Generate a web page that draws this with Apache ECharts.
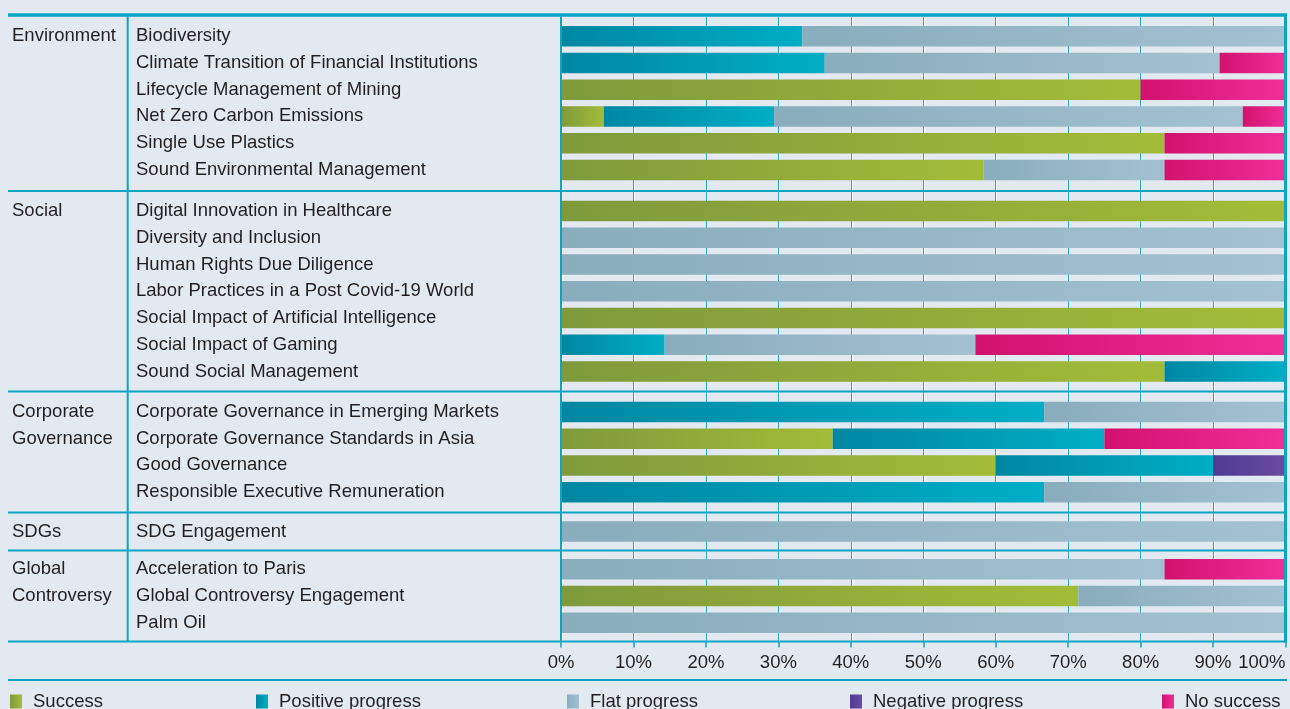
<!DOCTYPE html>
<html>
<head>
<meta charset="utf-8">
<style>
  html, body { margin: 0; padding: 0; background: #e2e9f1; }
  #chart { width: 1290px; height: 709px; }
</style>
<script src="https://cdn.jsdelivr.net/npm/echarts@6/dist/echarts.min.js"></script>
</head>
<body>
<div id="chart"></div>
<script>
const groups = ['Environment', 'Social', 'Corporate\nGovernance', 'SDGs', 'Global\nControversy'];

const environmentTopics = [
  'Biodiversity',
  'Climate Transition of Financial Institutions',
  'Lifecycle Management of Mining',
  'Net Zero Carbon Emissions',
  'Single Use Plastics',
  'Sound Environmental Management',
];
const socialTopics = [
  'Digital Innovation in Healthcare',
  'Diversity and Inclusion',
  'Human Rights Due Diligence',
  'Labor Practices in a Post Covid-19 World',
  'Social Impact of Artificial Intelligence',
  'Social Impact of Gaming',
  'Sound Social Management',
];
const governanceTopics = [
  'Corporate Governance in Emerging Markets',
  'Corporate Governance Standards in Asia',
  'Good Governance',
  'Responsible Executive Remuneration',
];
const sdgTopics = ['SDG Engagement'];
const controversyTopics = [
  'Acceleration to Paris',
  'Global Controversy Engagement',
  'Palm Oil',
];

const statuses = ['Success', 'Positive progress', 'Flat progress', 'Negative progress', 'No success'];

// % of engagements per topic, rows in the order of the topic lists above
const success   = [0, 0, 80, 5.9, 83.3, 58.3,   100, 0, 0, 0, 100, 0, 83.3,   0, 37.5, 60, 0,   0,   0, 71.4, 0];
const positive  = [33.3, 36.4, 0, 23.5, 0, 0,   0, 0, 0, 0, 0, 14.3, 16.7,   66.7, 37.5, 30, 66.7,   0,   0, 0, 0];
const flat      = [66.7, 54.5, 0, 64.7, 0, 25,  0, 100, 100, 100, 0, 42.9, 0,   33.3, 0, 0, 33.3,   100,   83.3, 28.6, 100];
const negative  = [0, 0, 0, 0, 0, 0,            0, 0, 0, 0, 0, 0, 0,   0, 0, 10, 0,   0,   0, 0, 0];
const noSuccess = [0, 9.1, 20, 5.9, 16.7, 16.7, 0, 0, 0, 0, 0, 42.9, 0,   0, 25, 0, 0,   0,   16.7, 0, 0];

const xTickLabels = ['0%', '10%', '20%', '30%', '40%', '50%', '60%', '70%', '80%', '90%', '100%'];

const topicGroups = [environmentTopics, socialTopics, governanceTopics, sdgTopics, controversyTopics];
const values = [success, positive, flat, negative, noSuccess];

const teal = '#0ba5c2';
const textColor = '#231f20';
const font = "'Liberation Sans', Arial, sans-serif";
const fontSize = 18.5;
const gradients = [
  ['#7e9a3c', '#a3bc38'],
  ['#0087a2', '#00aec5'],
  ['#89adbc', '#a3c1d1'],
  ['#4c3b95', '#6b4ba0'],
  ['#d1126e', '#ef2f98'],
];

// layout: horizontal rules between the groups
const sepY = [15, 191, 391.5, 512.5, 550.5, 641.5];
const ROW = 26.75;
const plotLeft = 561;
const plotRight = 4.5;
const legendX = [10, 256, 567, 850, 1162];

function grad(i) {
  return new echarts.graphic.LinearGradient(0, 0, 1, 0, [
    { offset: 0, color: gradients[i][0] },
    { offset: 1, color: gradients[i][1] },
  ]);
}

const labelStyle = { color: textColor, fontFamily: font, fontSize: fontSize };

const grids = [{ left: plotLeft, right: plotRight, top: 17, bottom: 709 - sepY[5], outerBoundsMode: 'none' }];
const xAxes = [{
  gridIndex: 0, type: 'value', min: 0, max: 100, interval: 10,
  axisLine: { show: false },
  axisTick: { show: true, length: 6, lineStyle: { color: teal, width: 1.5 } },
  axisLabel: Object.assign({ margin: 12, alignMaxLabel: 'right', formatter: (v) => xTickLabels[Math.round(v / 10)] }, labelStyle),
  splitLine: { show: true, lineStyle: { color: '#22a9c3', width: 1, shadowColor: 'rgba(255,255,255,0.9)', shadowOffsetX: 1, shadowBlur: 0 } },
}];
const yAxes = [
  { gridIndex: 0, type: 'value', position: 'left', z: 10, axisLine: { show: true, lineStyle: { color: teal, width: 2 } }, axisLabel: { show: false }, axisTick: { show: false }, splitLine: { show: false } },
  { gridIndex: 0, type: 'value', position: 'right', z: 10, axisLine: { show: true, lineStyle: { color: teal, width: 3 } }, axisLabel: { show: false }, axisTick: { show: false }, splitLine: { show: false } },
];
const series = [];
const graphics = [];

let offset = 0;
topicGroups.forEach((topics, g) => {
  const h = topics.length * ROW;
  const top = sepY[g] + (sepY[g + 1] - sepY[g] - h) / 2;
  grids.push({ left: plotLeft, right: plotRight, top: top, height: h, outerBoundsMode: 'none' });
  xAxes.push({ gridIndex: g + 1, type: 'value', min: 0, max: 100, show: false });

  const groupRows = groups[g].split('\n');
  while (groupRows.length < topics.length) groupRows.push('');

  yAxes.push({
    gridIndex: g + 1, type: 'category', position: 'left', data: topics, inverse: true,
    axisLine: { show: false }, axisTick: { show: false },
    axisLabel: Object.assign({ align: 'left', margin: plotLeft - 136, interval: 0, padding: [4, 0, 0, 0] }, labelStyle),
  });
  const yIdx = yAxes.length - 1;
  yAxes.push({
    gridIndex: g + 1, type: 'category', position: 'left', data: groupRows, inverse: true,
    axisLine: { show: false }, axisTick: { show: false },
    axisLabel: Object.assign({ align: 'left', margin: plotLeft - 12, interval: 0, padding: [4, 0, 0, 0] }, labelStyle),
  });

  statuses.forEach((name, s) => {
    series.push({
      type: 'bar', name: name, stack: 'g' + g,
      xAxisIndex: g + 1, yAxisIndex: yIdx,
      barWidth: 20.5, silent: true,
      itemStyle: { color: grad(s) },
      data: values[s].slice(offset, offset + topics.length),
    });
  });
  offset += topics.length;
});

// rules
sepY.forEach((y, i) => {
  graphics.push({ type: 'line', z: 20, shape: { x1: 8, y1: y, x2: 1287, y2: y }, style: { stroke: teal, lineWidth: i === 0 ? 3.5 : 2 } });
});
graphics.push({ type: 'line', z: 20, shape: { x1: 127.7, y1: sepY[0], x2: 127.7, y2: sepY[5] }, style: { stroke: teal, lineWidth: 2 } });
graphics.push({ type: 'line', z: 20, shape: { x1: 8, y1: 680, x2: 1287, y2: 680 }, style: { stroke: teal, lineWidth: 2 } });

const legends = statuses.map((name, i) => ({
  data: [name], left: legendX[i], top: 692, padding: 0,
  icon: 'rect', itemWidth: 12, itemHeight: 14, selectedMode: false,
  textStyle: Object.assign({ padding: [0, 0, 0, 6] }, labelStyle),
}));

const chart = echarts.init(document.getElementById('chart'), null, { renderer: 'canvas' });
chart.setOption({
  backgroundColor: '#e2e9f1',
  animation: false,
  grid: grids,
  xAxis: xAxes,
  yAxis: yAxes,
  legend: legends,
  graphic: graphics,
  series: series,
});
</script>
</body>
</html>
